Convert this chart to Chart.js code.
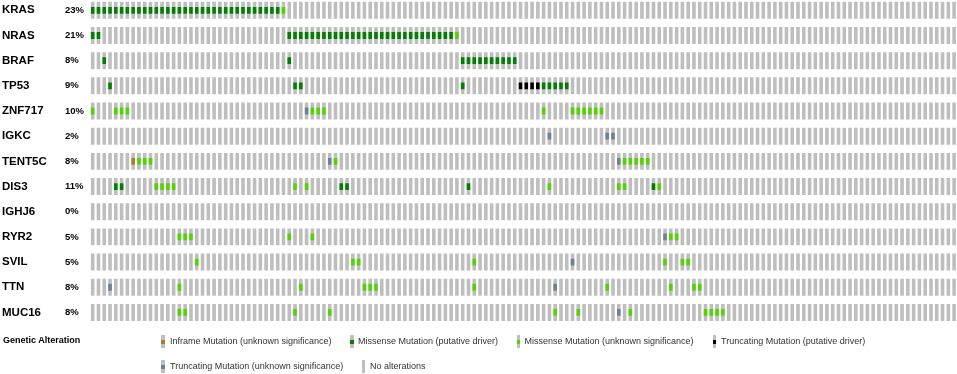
<!DOCTYPE html>
<html><head><meta charset="utf-8">
<script src="https://cdn.jsdelivr.net/npm/chart.js@4"></script>
<style>
html,body{margin:0;padding:0;background:#fff;}
#wrap{position:relative;width:957px;height:374px;overflow:hidden;}
canvas{position:absolute;left:0;top:0;}
.lg{position:absolute;font-family:"Liberation Sans",Arial,sans-serif;font-size:9px;color:#333;white-space:nowrap;line-height:12px;}
.ttl{font-weight:bold;color:#000;}
.ic{position:absolute;width:3.5px;height:13px;background:#bebebe;}
.ic i{position:absolute;left:0;right:0;top:4.5px;height:4px;}
</style></head>
<body><div id="wrap"><canvas id="c" width="957" height="374"></canvas><div id="legend"></div></div>
<script>
// ---- data ----
const SAMPLE_COUNT = 150;
const genes = ['KRAS','NRAS','BRAF','TP53','ZNF717','IGKC','TENT5C','DIS3','IGHJ6','RYR2','SVIL','TTN','MUC16'];
const altPct = ['23%','21%','8%','9%','10%','2%','8%','11%','0%','5%','5%','8%','8%'];
// runs of samples: [firstSample, lastSample, alterationType]
// MD = missense (putative driver), MU = missense (unknown), TD = truncating (putative driver),
// TU = truncating (unknown), IU = inframe (unknown)
const KRAS   = [[0,32,'MD'],[33,33,'MU']];
const NRAS   = [[0,1,'MD'],[34,62,'MD'],[63,63,'MU']];
const BRAF   = [[2,2,'MD'],[34,34,'MD'],[64,73,'MD']];
const TP53   = [[3,3,'MD'],[35,36,'MD'],[64,64,'MD'],[74,77,'TD'],[78,82,'MD']];
const ZNF717 = [[0,0,'MU'],[4,6,'MU'],[37,37,'TU'],[38,40,'MU'],[78,78,'MU'],[83,88,'MU']];
const IGKC   = [[79,79,'TU'],[89,90,'TU']];
const TENT5C = [[7,7,'IU'],[8,10,'MU'],[41,41,'TU'],[42,42,'MU'],[91,91,'TU'],[92,96,'MU']];
const DIS3   = [[4,5,'MD'],[11,14,'MU'],[35,35,'MU'],[37,37,'MU'],[43,44,'MD'],[65,65,'MD'],[79,79,'MU'],[91,92,'MU'],[97,97,'MD'],[98,98,'MU']];
const IGHJ6  = [];
const RYR2   = [[15,17,'MU'],[34,34,'MU'],[38,38,'MU'],[99,99,'TU'],[100,101,'MU']];
const SVIL   = [[18,18,'MU'],[45,46,'MU'],[66,66,'MU'],[83,83,'TU'],[99,99,'MU'],[102,103,'MU']];
const TTN    = [[3,3,'TU'],[15,15,'MU'],[36,36,'MU'],[47,49,'MU'],[66,66,'MU'],[80,80,'TU'],[89,89,'MU'],[100,100,'MU'],[104,105,'MU']];
const MUC16  = [[15,16,'MU'],[35,35,'MU'],[41,41,'MU'],[80,80,'MU'],[84,84,'MU'],[91,91,'TU'],[93,93,'MU'],[106,109,'MU']];
const tracks = [KRAS,NRAS,BRAF,TP53,ZNF717,IGKC,TENT5C,DIS3,IGHJ6,RYR2,SVIL,TTN,MUC16];
const legendLabels = {
  IU:'Inframe Mutation (unknown significance)',
  MD:'Missense Mutation (putative driver)',
  MU:'Missense Mutation (unknown significance)',
  TD:'Truncating Mutation (putative driver)',
  TU:'Truncating Mutation (unknown significance)',
  NA:'No alterations'
};

// ---- styles ----
const typeColors = {MD:'#008000', MU:'#53d400', TD:'#000000', TU:'#708090', IU:'#a68028'};
const GRAY = '#bebebe';
const ROW_HALF = 0.337, MARK_HALF = 0.135, BAR_W = 3.6;
const FONT = '"Liberation Sans", Arial, sans-serif';

const grayData = [];
genes.forEach((g, gi) => { for (let s = 0; s < SAMPLE_COUNT; s++) grayData.push({x: s, y: [gi - ROW_HALF, gi + ROW_HALF]}); });
const typeOrder = ['IU','MD','MU','TD','TU'];
const byType = {};
typeOrder.forEach(t => byType[t] = []);
tracks.forEach((runs, gi) => runs.forEach(([a, b, t]) => {
  for (let s = a; s <= b; s++) byType[t].push({x: s, y: [gi - MARK_HALF, gi + MARK_HALF]});
}));

const barCommon = {barThickness: BAR_W, grouped: false, inflateAmount: 0, borderWidth: 0};
const datasets = typeOrder.map(t => Object.assign({label: legendLabels[t], data: byType[t], backgroundColor: typeColors[t], order: 0}, barCommon));
datasets.push(Object.assign({label: 'No alterations', data: grayData, backgroundColor: GRAY, order: 1}, barCommon));

const yRange = {min: -0.41, max: 12.5, reverse: true};
function labelAxis(weight, width, labels, font) {
  return Object.assign({
    type: 'linear', position: 'left', weight: weight,
    grid: {display: false}, border: {display: false},
    afterBuildTicks: sc => { sc.ticks = labels.map((l, i) => ({value: i})); },
    afterFit: sc => { sc.width = width; sc.paddingTop = 0; sc.paddingBottom = 0; },
    ticks: {autoSkip: false, crossAlign: 'far', color: '#000', font: font,
            callback: (v) => labels[v]}
  }, yRange);
}

new Chart(document.getElementById('c'), {
  type: 'bar',
  data: {datasets},
  options: {
    responsive: false, animation: false, devicePixelRatio: 1,
    layout: {padding: {left: 2, right: 0, top: 0, bottom: 49}},
    plugins: {legend: {display: false}, tooltip: {enabled: false}},
    scales: {
      x: {type: 'linear', min: -0.5, max: SAMPLE_COUNT - 0.5, offset: false, display: false},
      y: Object.assign({type: 'linear', display: false}, yRange),
      yName: labelAxis(2, 63, genes, {family: FONT, size: 11.5, weight: 'bold'}),
      yPct: labelAxis(1, 24.8, altPct, {family: FONT, size: 9.5, weight: 'bold'})
    }
  }
});

// ---- legend (HTML) ----
const legendLayout = [
  {k:'IU', ix:161, tx:170, cy:341.5}, {k:'MD', ix:350, tx:358, cy:341.5},
  {k:'MU', ix:516.5, tx:524.5, cy:341.5}, {k:'TD', ix:712.5, tx:721, cy:341.5},
  {k:'TU', ix:161, tx:170, cy:366.5}, {k:'NA', ix:361.5, tx:370, cy:366.5}
];
const lg = document.getElementById('legend');
let html = '<div class="lg ttl" style="left:3px;top:334px">Genetic Alteration</div>';
legendLayout.forEach(it => {
  const mark = typeColors[it.k] ? '<i style="background:' + typeColors[it.k] + '"></i>' : '';
  html += '<div class="ic" style="left:' + it.ix + 'px;top:' + (it.cy - 6.5) + 'px">' + mark + '</div>';
  html += '<div class="lg" style="left:' + it.tx + 'px;top:' + (it.cy - 6.5) + 'px">' + legendLabels[it.k] + '</div>';
});
lg.innerHTML = html;
</script>
</body></html>
